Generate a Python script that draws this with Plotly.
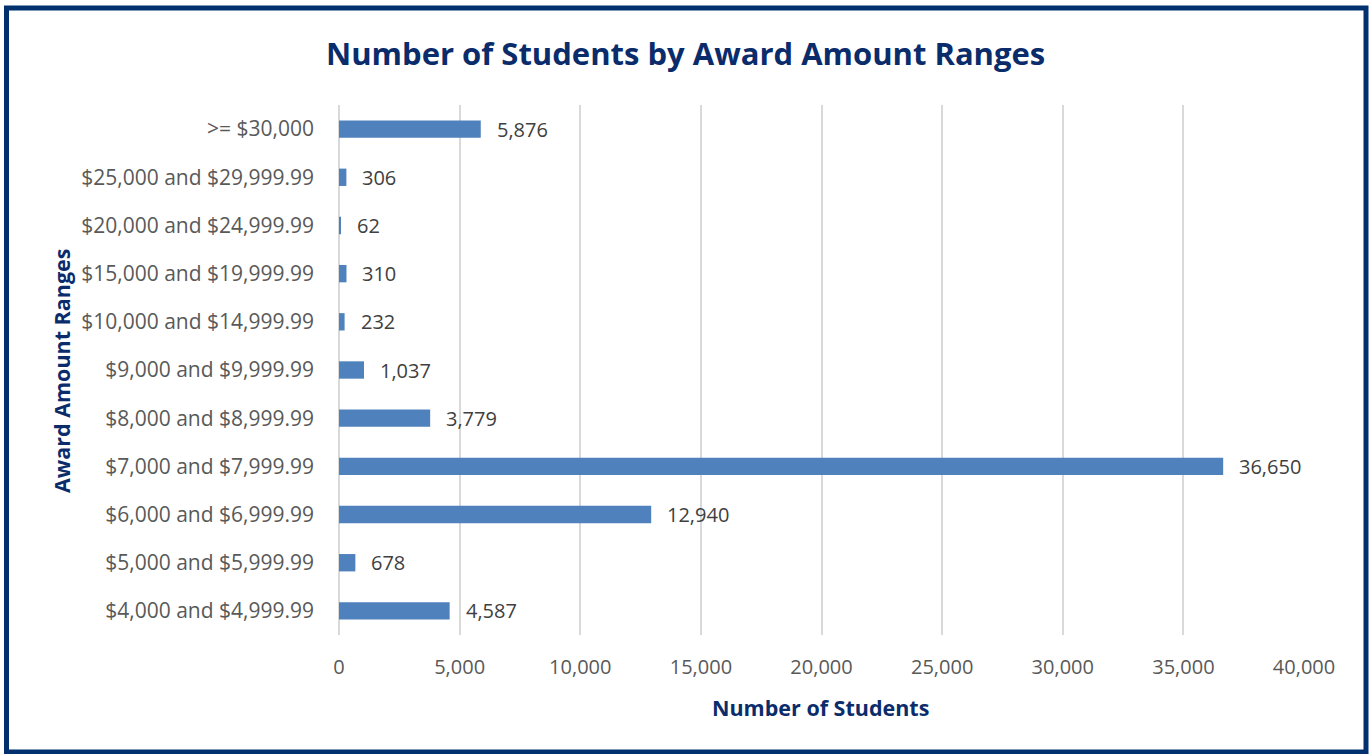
import plotly.graph_objects as go

categories = [
    "$4,000 and $4,999.99",
    "$5,000 and $5,999.99",
    "$6,000 and $6,999.99",
    "$7,000 and $7,999.99",
    "$8,000 and $8,999.99",
    "$9,000 and $9,999.99",
    "$10,000 and $14,999.99",
    "$15,000 and $19,999.99",
    "$20,000 and $24,999.99",
    "$25,000 and $29,999.99",
    ">= $30,000",
]
students = [4587, 678, 12940, 36650, 3779, 1037, 232, 310, 62, 306, 5876]
x_ticks = [0, 5000, 10000, 15000, 20000, 25000, 30000, 35000, 40000]
x_tick_labels = ["0", "5,000", "10,000", "15,000", "20,000", "25,000", "30,000", "35,000", "40,000"]

W, H = 1369, 754
L, R, T, B = 339, 65, 105, 119
pw, ph = W - L - R, H - T - B
navy = "#0B2C6B"
font_family = "'Open Sans', sans-serif"

fig = go.Figure()
fig.add_trace(go.Bar(
    y=categories, x=students, orientation="h",
    marker=dict(color="#4F81BD", line=dict(width=0)),
    width=0.36, hoverinfo="x+y",
))

for c, v in zip(categories, students):
    fig.add_annotation(x=v, y=c, text=f"{v:,}", showarrow=False,
                       xanchor="left", xshift=14,
                       font=dict(size=20, color="#404040", family=font_family))

def px_to_paper_x(p):
    return (p - L) / pw

def py_to_paper_y(p):
    return (H - B - p) / ph

fig.add_shape(type="rect", xref="paper", yref="paper",
              x0=px_to_paper_x(6.5), x1=px_to_paper_x(1366),
              y0=py_to_paper_y(752), y1=py_to_paper_y(8),
              line=dict(color="#00306E", width=5), layer="above")

fig.add_annotation(xref="paper", yref="paper", x=px_to_paper_x(685), y=py_to_paper_y(53),
                   text="<b>Number of Students by Award Amount Ranges</b>", showarrow=False,
                   xanchor="center", yanchor="middle",
                   font=dict(size=31, color=navy, family=font_family))
fig.add_annotation(xref="paper", yref="paper", x=px_to_paper_x(820), y=py_to_paper_y(707),
                   text="<b>Number of Students</b>", showarrow=False,
                   xanchor="center", yanchor="middle",
                   font=dict(size=21.5, color=navy, family=font_family))
fig.add_annotation(xref="paper", yref="paper", x=px_to_paper_x(61), y=py_to_paper_y(371),
                   text="<b>Award Amount Ranges</b>", showarrow=False, textangle=-90,
                   xanchor="center", yanchor="middle",
                   font=dict(size=21.5, color=navy, family=font_family))

fig.update_layout(
    width=W, height=H,
    margin=dict(l=L, r=R, t=T, b=B),
    paper_bgcolor="white", plot_bgcolor="white",
    showlegend=False,
    bargap=0.64,
    font=dict(family=font_family),
    xaxis=dict(range=[0, 40000], tickvals=x_ticks, ticktext=x_tick_labels,
               showgrid=True, gridcolor="#D9D9D9", gridwidth=1.5,
               zeroline=True, zerolinecolor="#D9D9D9", zerolinewidth=1.5,
               showline=False, ticks="", ticklabelstandoff=18,
               tickfont=dict(size=20, color="#595959", family=font_family)),
    yaxis=dict(categoryorder="array", categoryarray=categories,
               showgrid=False, showline=False, ticks="", ticklabelstandoff=24,
               tickfont=dict(size=21, color="#595959", family=font_family)),
)

fig.write_html("out.html", config={"displayModeBar": False},
               post_script="document.body.style.margin='0px';document.body.style.overflow='hidden';")
